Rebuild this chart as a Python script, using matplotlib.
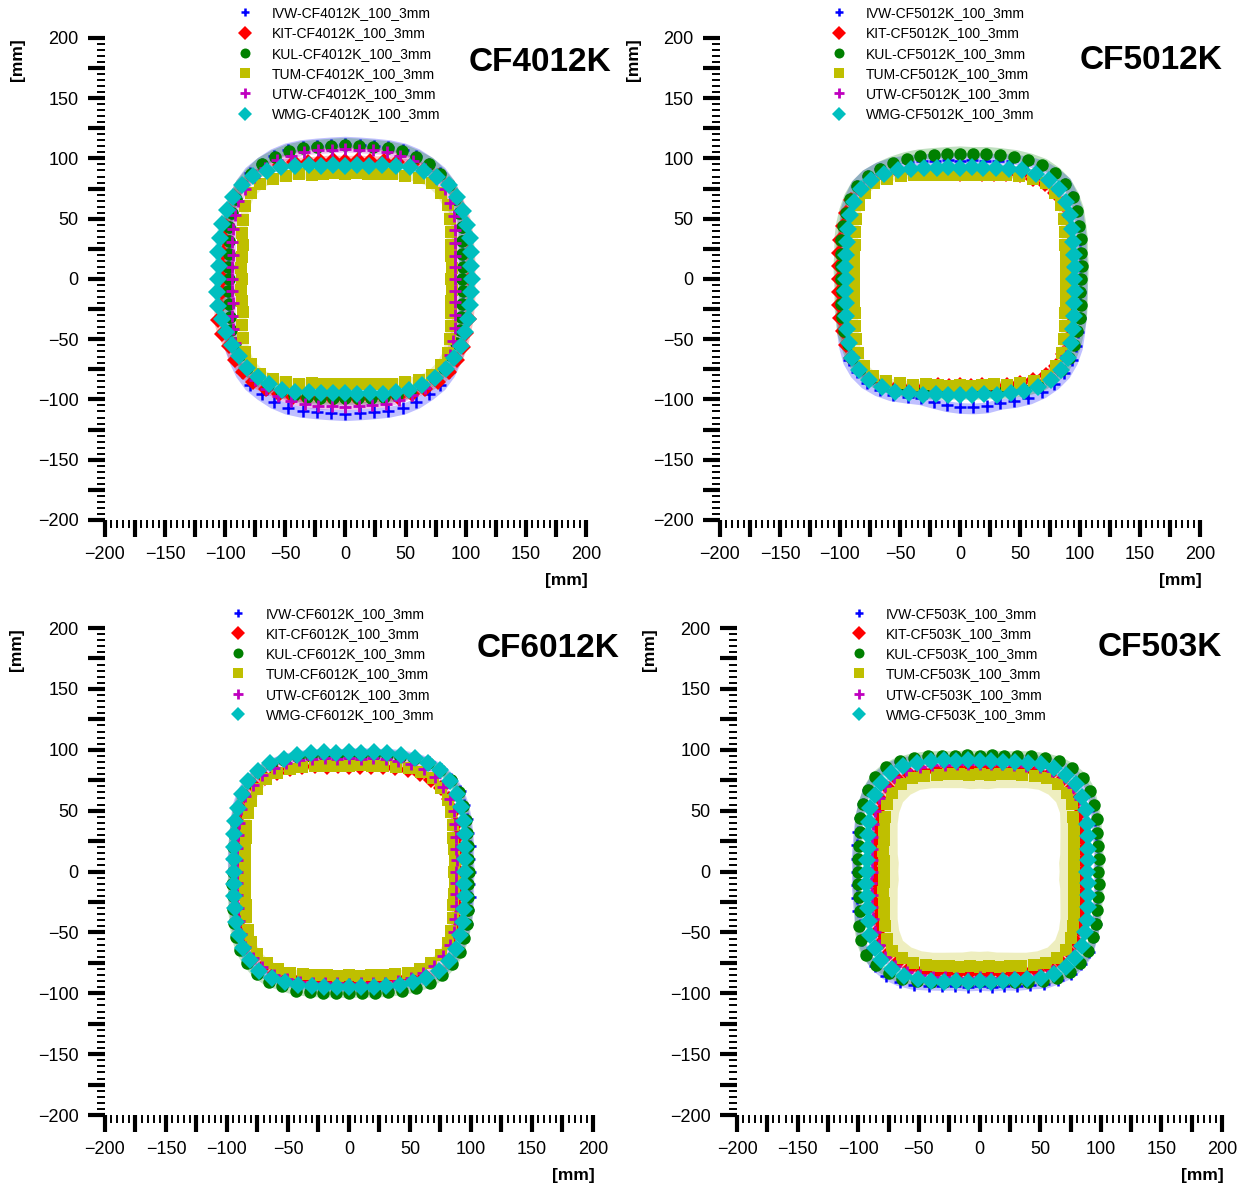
import numpy as np
import matplotlib
matplotlib.use("Agg")
import matplotlib.pyplot as plt
from matplotlib.ticker import MultipleLocator, FuncFormatter

plt.rcParams['font.family'] = ['Liberation Sans', 'DejaVu Sans']

# contour radii [mm] at 0, 6, 12 ... 354 deg (counter-clockwise from +x)
angles_deg = np.arange(0, 360, 6)

labs = ['IVW', 'KIT', 'KUL', 'TUM', 'UTW', 'WMG']
panels = ['CF4012K', 'CF5012K', 'CF6012K', 'CF503K']

# ---- CF4012K ----
cf4012k_ivw = [97,98,100,102,106,110,113,116,118,118,118,117,115,113,112,
               112,112,113,115,117,118,118,118,116,113,110,106,102,100,98,
               97,98,100,102,106,110,113,116,118,118,118,117,115,113,112,
               112,112,113,115,117,118,118,118,116,113,110,106,102,100,98]
cf4012k_kit = [104,105,106,108,111,113,115,116,115,113,110,106,103,100,99,
               98,99,100,102,106,109,112,115,116,115,112,109,106,104,103,
               102,103,107,111,112,112,114,115,115,113,110,107,104,101,100,
               99,100,101,103,107,110,113,115,116,115,113,110,108,106,105]
cf4012k_kul = [97,98,99,102,106,109,113,116,117,118,117,116,114,112,111,
               111,111,112,114,116,117,118,117,116,113,109,106,102,99,98,
               97,98,99,101,104,106,108,110,110,109,107,105,103,101,99,
               99,99,101,103,105,107,109,110,110,108,106,104,101,99,98]
cf4012k_tum = [88,89,90,92,96,100,105,107,107,104,99,95,92,89,88,
               87,88,89,91,95,99,103,106,106,103,98,94,90,88,87,
               86,87,88,90,94,98,103,106,106,103,99,95,91,89,88,
               87,88,89,92,95,99,104,107,107,105,100,96,92,90,89]
cf4012k_utw = [91,92,93,96,100,104,107,111,113,113,113,112,111,109,108,
               108,108,109,111,112,114,114,114,112,110,106,102,99,96,95,
               94,95,96,99,102,106,109,111,113,113,112,111,109,108,106,
               106,106,107,109,110,111,112,111,110,107,103,100,96,93,92]
cf4012k_wmg = [105,105,107,109,111,113,115,116,114,111,107,103,99,96,95,
               94,95,96,99,103,107,111,115,116,116,114,112,110,108,106,
               106,107,108,108,109,109,109,110,109,108,106,103,99,97,95,
               95,96,97,100,103,106,109,111,112,112,111,109,107,106,105]

# ---- CF5012K ----
cf5012k_ivw = [100,101,102,105,108,112,115,118,117,115,111,107,103,100,99,
               98,99,100,103,106,110,113,115,115,112,109,104,101,98,97,
               96,97,99,102,106,110,114,116,116,114,111,107,104,104,105,
               106,107,108,108,111,114,116,117,117,115,112,108,105,102,101]
cf5012k_kit = [93,93,95,97,100,103,106,107,106,103,100,95,92,89,88,
               87,88,90,93,97,102,107,111,112,112,110,107,105,103,101,
               101,101,103,105,107,110,112,113,111,107,103,98,94,90,89,
               88,89,90,93,96,100,104,107,108,106,103,100,97,95,93]
cf5012k_kul = [101,102,103,106,109,113,116,118,118,117,114,111,108,106,104,
               104,104,105,107,109,111,113,115,115,113,110,107,104,101,100,
               99,99,101,103,106,108,111,112,111,109,105,102,99,96,95,
               94,95,96,99,102,106,110,112,113,112,110,107,105,103,101]
cf5012k_tum = [88,89,90,92,96,100,104,107,107,103,99,94,91,88,87,
               86,87,88,91,94,99,103,107,107,104,100,96,92,90,89,
               88,89,90,92,96,100,105,108,108,105,100,96,92,90,89,
               88,89,90,92,96,100,105,108,108,105,100,96,92,90,89]
cf5012k_utw = [94,95,96,98,102,105,108,110,110,108,104,100,97,94,93,
               92,93,94,97,100,104,108,111,111,109,106,102,99,97,96,
               95,96,97,100,103,107,110,113,113,110,107,103,100,97,96,
               95,96,97,100,103,107,110,112,112,109,106,102,99,96,95]
cf5012k_wmg = [95,96,97,99,102,106,109,111,111,108,104,100,97,94,93,
               92,93,94,97,100,104,108,111,111,109,106,102,99,97,96,
               95,96,97,100,103,107,111,113,113,111,108,104,101,98,97,
               96,97,98,101,104,107,111,113,113,111,107,103,100,97,96]

# ---- CF6012K ----
cf6012k_ivw = [99,99,101,103,106,109,112,113,113,111,108,105,102,99,98,
               97,97,99,101,104,107,109,111,111,109,106,102,99,97,96,
               95,95,97,99,102,105,108,110,110,108,105,102,99,97,95,
               95,96,97,100,103,106,109,112,112,111,108,106,103,101,99]
cf6012k_kit = [90,90,92,94,96,99,101,102,101,99,96,93,90,88,86,
               86,87,88,91,94,97,100,103,104,103,101,99,96,95,93,
               93,93,95,97,99,102,104,106,105,103,100,97,94,92,90,
               90,90,92,94,97,100,106,110,111,106,100,97,94,92,90]
cf6012k_kul = [98,98,100,102,105,108,111,112,112,110,107,103,101,98,96,
               96,96,98,100,103,106,109,110,110,108,105,102,99,97,95,
               95,96,97,100,103,107,110,112,113,112,109,107,104,102,100,
               100,100,102,104,107,110,113,114,114,112,109,106,103,100,98]
cf6012k_tum = [86,87,88,90,93,97,100,102,103,101,98,94,91,89,88,
               87,87,89,91,94,97,100,102,101,99,96,92,89,87,86,
               85,86,87,89,92,96,99,101,101,99,96,92,89,87,86,
               85,86,87,89,92,96,99,101,102,100,97,93,90,88,87]
cf6012k_utw = [88,89,90,92,95,99,102,104,105,104,102,99,97,95,93,
               93,93,95,97,100,103,105,107,106,105,102,99,96,94,92,
               92,92,94,96,99,102,105,106,106,105,102,99,96,94,92,
               92,92,94,96,98,101,103,104,104,102,99,95,92,90,88]
cf6012k_wmg = [95,96,97,100,103,106,109,111,112,110,108,105,102,100,98,
               98,98,100,102,105,107,110,111,111,108,105,102,99,96,95,
               94,95,96,98,101,104,107,109,110,108,105,102,99,97,95,
               95,95,97,99,102,105,108,110,110,108,105,102,99,97,95]

# ---- CF503K ----
cf503k_ivw = [97,98,99,101,104,108,111,112,112,109,105,101,97,94,93,
              92,93,94,97,101,106,111,114,115,114,111,108,105,103,102,
              101,102,103,105,108,112,115,116,115,112,108,103,99,96,95,
              94,95,96,99,102,107,110,113,113,112,108,105,101,99,98]
cf503k_kit = [85,86,87,89,92,95,98,100,100,98,95,91,88,86,85,
              84,85,86,88,91,95,98,101,101,99,96,93,90,88,87,
              86,86,88,90,93,96,99,100,100,98,94,91,87,85,84,
              83,84,85,87,90,94,97,100,100,98,95,92,89,87,85]
cf503k_kul = [98,99,100,102,106,109,113,115,114,112,108,104,100,97,96,
              95,96,97,100,104,108,112,115,116,114,111,108,104,102,101,
              100,101,102,104,109,113,116,115,112,109,104,99,95,92,91,
              90,91,92,95,99,104,108,111,112,111,108,105,102,100,99]
cf503k_tum = [78,78,80,82,85,89,94,97,97,95,91,87,84,82,80,
              80,80,82,84,87,91,95,97,97,94,90,86,83,81,79,
              79,79,81,83,86,90,94,97,96,93,89,85,82,80,78,
              78,78,80,82,85,89,93,96,96,93,89,85,82,80,78]
cf503k_utw = [88,89,90,92,95,99,102,104,104,102,99,95,92,90,89,
              88,89,90,92,96,99,103,105,105,103,100,96,93,91,89,
              89,90,91,93,96,100,103,105,104,102,98,95,91,89,88,
              87,88,89,91,95,98,101,104,104,102,99,95,92,90,88]
cf503k_wmg = [89,90,91,94,97,101,104,107,107,105,102,98,95,92,91,
              91,92,93,96,99,103,107,109,109,107,104,100,97,94,93,
              93,94,95,97,100,104,107,109,108,106,102,98,95,92,91,
              90,91,92,94,97,101,104,106,106,104,100,97,94,91,90]

# scatter band around each contour [mm]: inward / outward
band_in = {'CF4012K': [3, 4, 3, 4, 3, 3], 'CF5012K': [3, 3, 3, 3, 3, 3],
           'CF6012K': [3, 3, 3, 3, 3, 3], 'CF503K': [3, 3, 3, 12, 3, 3]}
band_out = {'CF4012K': [6, 4, 6, 3, 3, 3], 'CF5012K': [6, 3, 6, 3, 3, 3],
            'CF6012K': [4, 3, 4, 3, 3, 3], 'CF503K': [4, 3, 4, 3, 3, 3]}

data = {
    'CF4012K': [cf4012k_ivw, cf4012k_kit, cf4012k_kul, cf4012k_tum, cf4012k_utw, cf4012k_wmg],
    'CF5012K': [cf5012k_ivw, cf5012k_kit, cf5012k_kul, cf5012k_tum, cf5012k_utw, cf5012k_wmg],
    'CF6012K': [cf6012k_ivw, cf6012k_kit, cf6012k_kul, cf6012k_tum, cf6012k_utw, cf6012k_wmg],
    'CF503K': [cf503k_ivw, cf503k_kit, cf503k_kul, cf503k_tum, cf503k_utw, cf503k_wmg],
}

styles = [
    dict(marker='+', color='b', ms=8, mew=1.8),
    dict(marker='D', color='r', ms=8.5, mew=0),
    dict(marker='o', color='g', ms=9, mew=0),
    dict(marker='s', color='y', ms=9, mew=0),
    dict(marker='+', color='m', ms=9, mew=2),
    dict(marker='D', color='c', ms=9.5, mew=0),
]

# axes rectangles, legend anchors, title anchors
rects = [[0.0843, 0.5627, 0.3863, 0.4054], [0.5783, 0.5627, 0.3855, 0.4054],
         [0.0843, 0.0622, 0.3920, 0.4096], [0.5920, 0.0622, 0.3896, 0.4096]]
leg_xy = [(0.262, 1.066), (0.218, 1.066), (0.245, 1.044), (0.222, 1.044)]
title_xy = [(1.054, 0.950), (1.046, 0.954), (1.055, 0.957), (1.000, 0.961)]

th = np.deg2rad(angles_deg)


def fmt(v, pos):
    if abs(v % 50) < 1e-6:
        return f'{v:.0f}'.replace('-', '\u2212')
    return ''


fig = plt.figure(figsize=(12.45, 11.89), dpi=100)

for i, name in enumerate(panels):
    ax = fig.add_axes(rects[i])
    for j, r in enumerate(data[name]):
        r = np.array(r, dtype=float)
        st = styles[j]
        ro = r + band_out[name][j]
        ri = r - band_in[name][j]
        xo, yo = ro * np.cos(th), ro * np.sin(th)
        xi, yi = ri * np.cos(th), ri * np.sin(th)
        bx = np.r_[xo, xo[0], xi[0], xi[:0:-1], xi[0]]
        by = np.r_[yo, yo[0], yi[0], yi[:0:-1], yi[0]]
        ax.fill(bx, by, color=st['color'], alpha=0.25, lw=0, zorder=1)
    for j, r in enumerate(data[name]):
        r = np.array(r, dtype=float)
        st = styles[j]
        ax.plot(r * np.cos(th), r * np.sin(th), ls='none', marker=st['marker'],
                color=st['color'], ms=st['ms'], mew=st['mew'], zorder=2 + j,
                label=f'{labs[j]}-{name}_100_3mm')

    ax.set_xlim(-200, 200)
    ax.set_ylim(-200, 200)
    for s in ax.spines.values():
        s.set_visible(False)
    for axis in (ax.xaxis, ax.yaxis):
        axis.set_major_locator(MultipleLocator(25))
        axis.set_minor_locator(MultipleLocator(5))
        axis.set_major_formatter(FuncFormatter(fmt))
    ax.tick_params(which='major', length=12, width=3, labelsize=13, pad=7)
    ax.tick_params(which='minor', length=5.5, width=1.4)

    ax.text(1.003, -0.125, '[mm]', transform=ax.transAxes, ha='right', va='center',
            fontsize=12.5, fontweight='bold')
    ax.text(-0.181, 1.0, '[mm]', transform=ax.transAxes, ha='center', va='top',
            rotation=90, fontsize=12.5, fontweight='bold')
    ax.text(title_xy[i][0], title_xy[i][1], name, transform=ax.transAxes,
            ha='right', va='center', fontsize=24, fontweight='bold')

    ax.legend(loc='upper left', bbox_to_anchor=leg_xy[i], frameon=False,
              fontsize=10, borderpad=0, borderaxespad=0, handlelength=2,
              handletextpad=0.95, labelspacing=0.45, markerscale=0.8)

fig.savefig('out.png', dpi=100)
